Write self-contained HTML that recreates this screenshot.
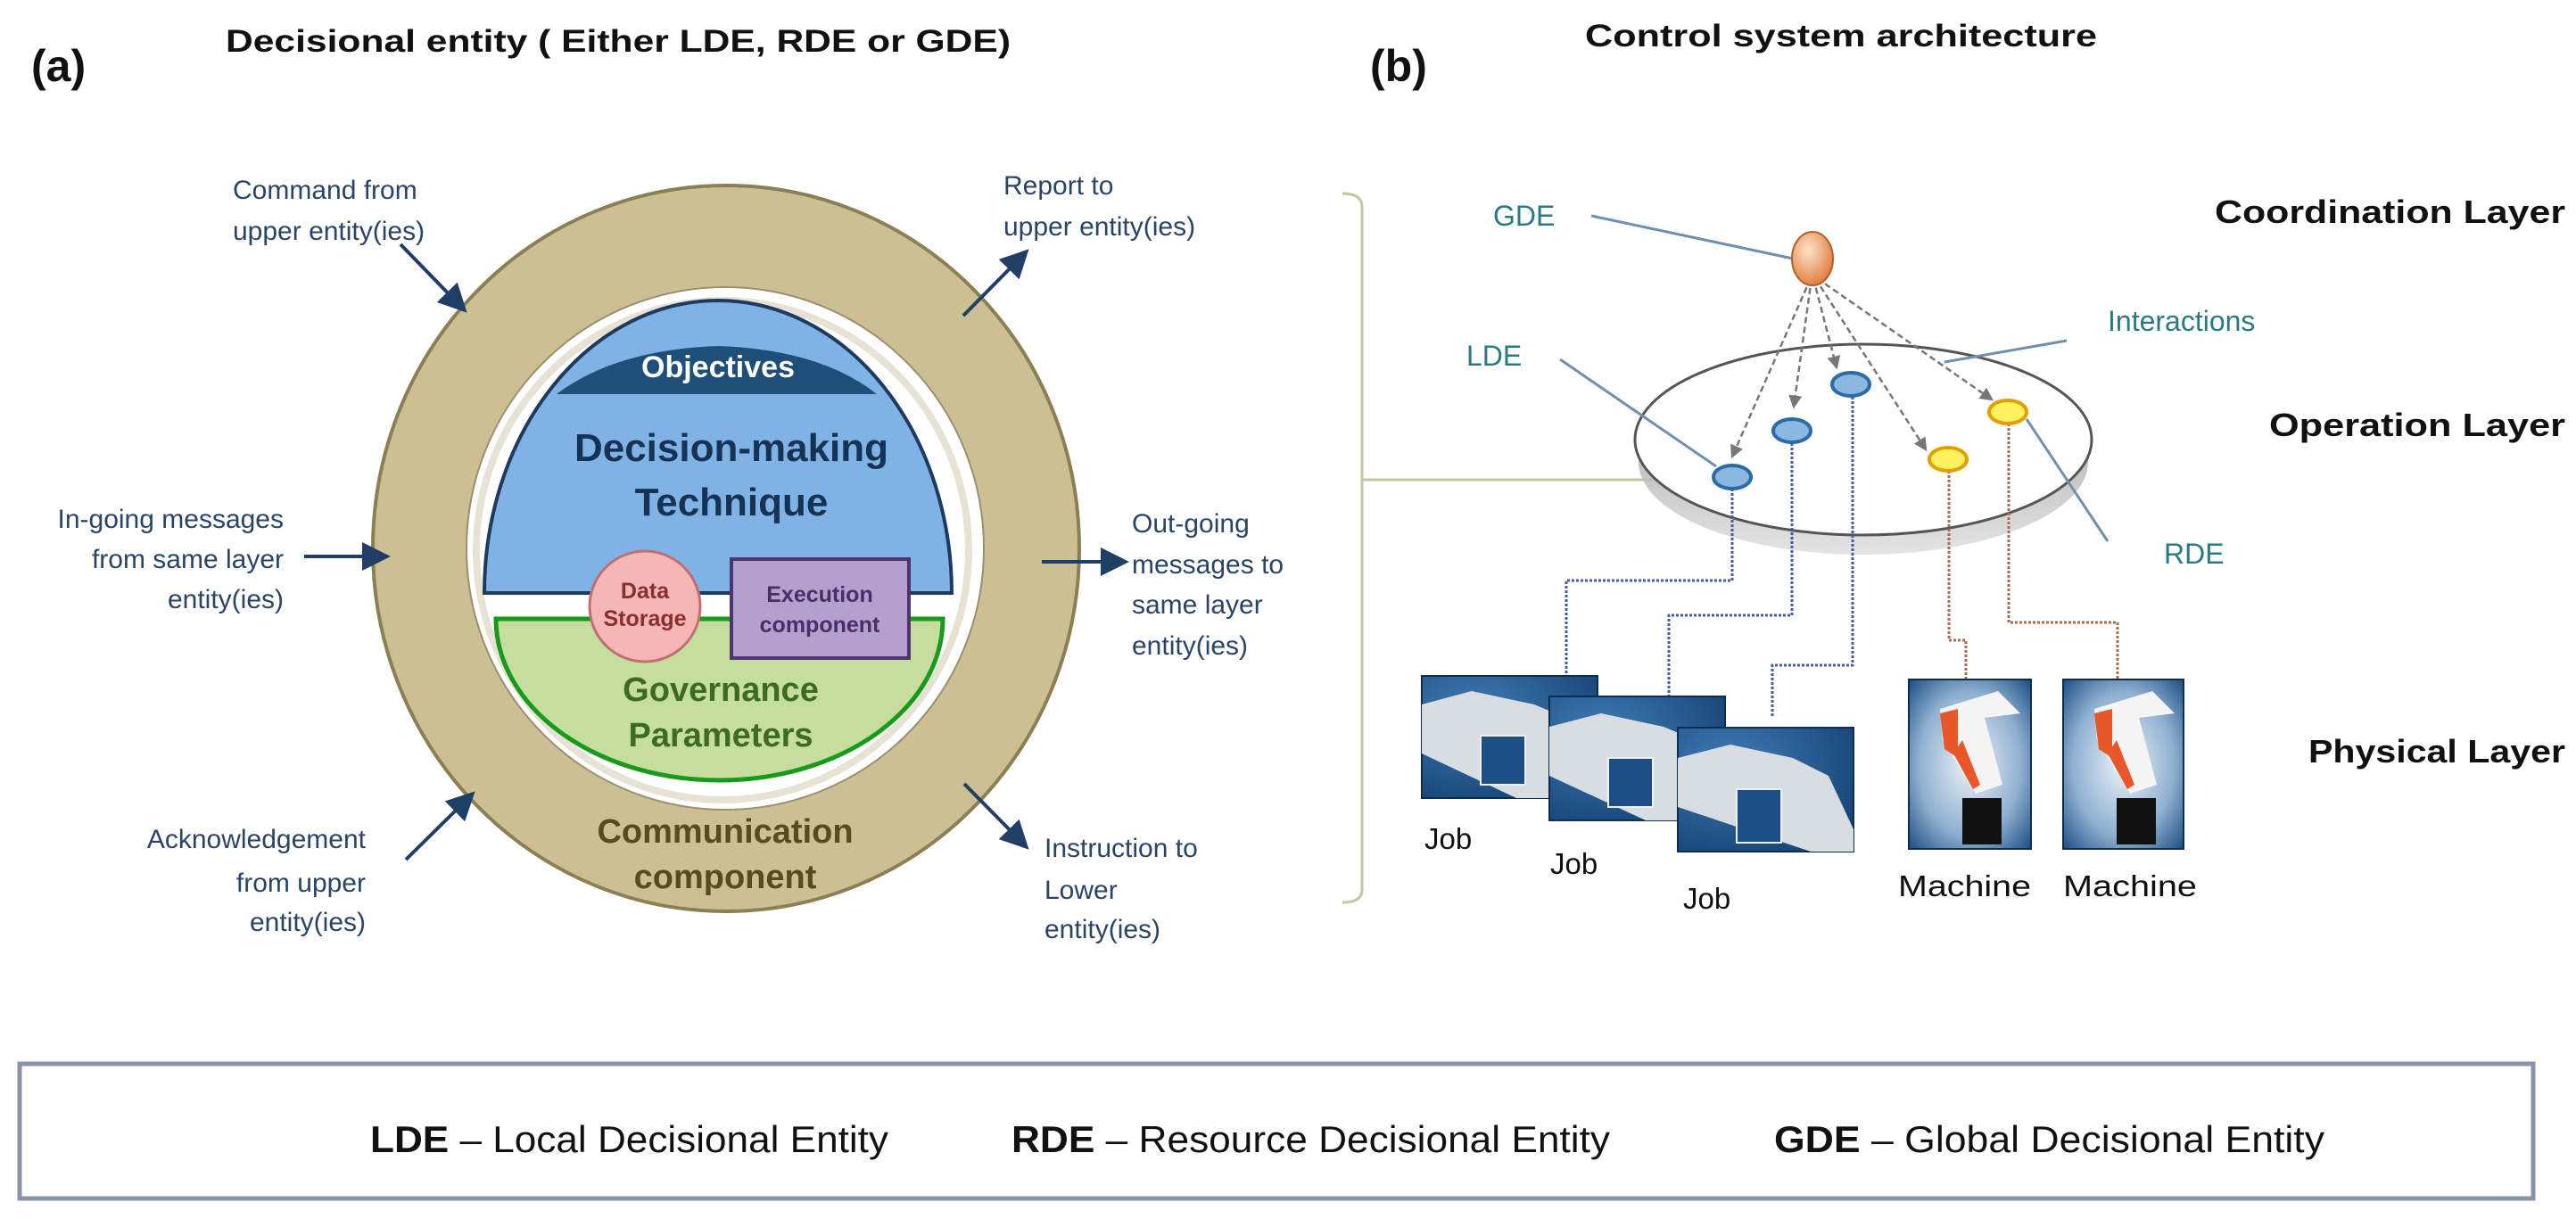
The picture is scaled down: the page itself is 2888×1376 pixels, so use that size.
<!DOCTYPE html>
<html><head><meta charset="utf-8"><style>
html,body{margin:0;padding:0;background:#fff;}
svg{display:block;}
text{font-family:"Liberation Sans",sans-serif;}
</style></head><body>
<svg width="2888" height="1376" viewBox="0 0 2888 1376" xmlns="http://www.w3.org/2000/svg">
<defs>
<marker id="ah" markerWidth="8" markerHeight="8" refX="6" refY="4" orient="auto" markerUnits="strokeWidth"><path d="M0,0 L8,4 L0,8 Z" fill="#1f3f66"/></marker>
<marker id="gh" markerWidth="6" markerHeight="6" refX="5" refY="3" orient="auto" markerUnits="strokeWidth"><path d="M0,0 L6,3 L0,6 Z" fill="#777"/></marker>
<radialGradient id="jobg" cx="0.3" cy="0.3" r="0.9"><stop offset="0" stop-color="#3f7bb5"/><stop offset="1" stop-color="#123e6e"/></radialGradient>
<radialGradient id="robg" cx="0.5" cy="0.5" r="0.7"><stop offset="0" stop-color="#eef3f8"/><stop offset="0.6" stop-color="#8fb0d0"/><stop offset="1" stop-color="#1d4f85"/></radialGradient>
<radialGradient id="gdeg" cx="0.4" cy="0.35" r="0.7"><stop offset="0" stop-color="#fde3c8"/><stop offset="1" stop-color="#e0793a"/></radialGradient>
<linearGradient id="shad" x1="0" y1="0" x2="0" y2="1"><stop offset="0" stop-color="#888"/><stop offset="1" stop-color="#ddd"/></linearGradient>
</defs>

<!-- Titles -->
<text x="35" y="91" font-size="50" font-weight="bold" fill="#111">(a)</text>
<text x="253" y="58" font-size="35" font-weight="bold" fill="#111" textLength="880" lengthAdjust="spacingAndGlyphs">Decisional entity ( Either LDE, RDE or GDE)</text>
<text x="1536" y="91" font-size="50" font-weight="bold" fill="#111">(b)</text>
<text x="1777" y="52" font-size="35" font-weight="bold" fill="#111" textLength="574" lengthAdjust="spacingAndGlyphs">Control system architecture</text>

<!-- Part (a) -->
<ellipse cx="814" cy="615" rx="396" ry="407" fill="#cbbf93" stroke="#8a7f55" stroke-width="4"/>
<ellipse cx="813" cy="615" rx="290" ry="293" fill="#fff" stroke="#9a9070" stroke-width="2"/>
<ellipse cx="810" cy="617" rx="276" ry="280" fill="none" stroke="#e6e2d4" stroke-width="8"/>
<!-- blue -->
<path d="M543,665 A262,328 0 0 1 1067,665 Z" fill="#7fb2e5" stroke="#1f3a5f" stroke-width="4"/>
<path d="M624,442 Q690,392 805,388 Q920,392 983,442 Z" fill="#1f4e79"/>
<text x="805" y="423" font-size="34" font-weight="bold" fill="#fff" text-anchor="middle">Objectives</text>
<text x="820" y="517" font-size="44" font-weight="bold" fill="#163355" text-anchor="middle">Decision-making</text>
<text x="820" y="578" font-size="44" font-weight="bold" fill="#163355" text-anchor="middle">Technique</text>
<!-- green -->
<path d="M556,694 L1057,694 A250.5,181 0 0 1 556,694 Z" fill="#c5dea0" stroke="#1a9a1a" stroke-width="5"/>
<text x="808" y="786" font-size="38" font-weight="bold" fill="#3d6b1f" text-anchor="middle">Governance</text>
<text x="808" y="837" font-size="38" font-weight="bold" fill="#3d6b1f" text-anchor="middle">Parameters</text>
<!-- data storage -->
<circle cx="723" cy="680" r="62" fill="#f4b6b6" stroke="#c07070" stroke-width="3"/>
<text x="723" y="671" font-size="25" font-weight="bold" fill="#8b2e2e" text-anchor="middle">Data</text>
<text x="723" y="702" font-size="25" font-weight="bold" fill="#8b2e2e" text-anchor="middle">Storage</text>
<rect x="820" y="627" width="199" height="111" fill="#b4a0cc" stroke="#4f3470" stroke-width="4"/>
<text x="919" y="675" font-size="25" font-weight="bold" fill="#4a2d6a" text-anchor="middle">Execution</text>
<text x="919" y="709" font-size="25" font-weight="bold" fill="#4a2d6a" text-anchor="middle">component</text>
<text x="813" y="945" font-size="38" font-weight="bold" fill="#5a4a20" text-anchor="middle">Communication</text>
<text x="813" y="996" font-size="38" font-weight="bold" fill="#5a4a20" text-anchor="middle">component</text>

<!-- arrows (a) -->
<g stroke="#1f3f66" stroke-width="4" marker-end="url(#ah)" fill="none">
<line x1="449" y1="274" x2="518" y2="345"/>
<line x1="1080" y1="354" x2="1148" y2="285"/>
<line x1="341" y1="624" x2="430" y2="624"/>
<line x1="1168" y1="630" x2="1258" y2="630"/>
<line x1="455" y1="964" x2="527" y2="893"/>
<line x1="1081" y1="879" x2="1148" y2="947"/>
</g>
<g font-size="30" fill="#2a4466">
<text x="261" y="223">Command from</text>
<text x="261" y="269">upper entity(ies)</text>
<text x="1125" y="218">Report to</text>
<text x="1125" y="264">upper entity(ies)</text>
<text x="318" y="592" text-anchor="end">In-going messages</text>
<text x="318" y="637" text-anchor="end">from same layer</text>
<text x="318" y="682" text-anchor="end">entity(ies)</text>
<text x="1269" y="597">Out-going</text>
<text x="1269" y="643">messages to</text>
<text x="1269" y="688">same layer</text>
<text x="1269" y="734">entity(ies)</text>
<text x="410" y="951" text-anchor="end">Acknowledgement</text>
<text x="410" y="1000" text-anchor="end">from upper</text>
<text x="410" y="1044" text-anchor="end">entity(ies)</text>
<text x="1171" y="961">Instruction to</text>
<text x="1171" y="1008">Lower</text>
<text x="1171" y="1052">entity(ies)</text>
</g>

<!-- Part (b) -->
<path d="M1505,217 Q1527,217 1527,232 L1527,998 Q1527,1012 1505,1012" fill="none" stroke="#c8c4a0" stroke-width="3"/>
<line x1="1527" y1="538" x2="1921" y2="538" stroke="#c8c4a0" stroke-width="3"/>

<ellipse cx="2089" cy="518" rx="252" ry="104" fill="url(#shad)" opacity="0.8"/>
<ellipse cx="2089" cy="493" rx="256" ry="107" fill="#fff" stroke="#555" stroke-width="3"/>

<g stroke="#7090b0" stroke-width="3" fill="none">
<line x1="1784" y1="242" x2="2010" y2="290"/>
<line x1="1749" y1="403" x2="1924" y2="523"/>
<line x1="2317" y1="382" x2="2180" y2="406"/>
<line x1="2272" y1="470" x2="2363" y2="607"/>
</g>

<g stroke="#777" stroke-width="2.5" stroke-dasharray="7,4" fill="none" marker-end="url(#gh)">
<line x1="2030" y1="312" x2="1942" y2="512"/>
<line x1="2031" y1="312" x2="2011" y2="456"/>
<line x1="2033" y1="312" x2="2059" y2="412"/>
<line x1="2035" y1="312" x2="2159" y2="504"/>
<line x1="2037" y1="312" x2="2233" y2="448"/>
</g>

<g stroke="#4a5aa0" stroke-width="3" stroke-dasharray="3,2" fill="none">
<polyline points="1942,548 1942,651 1756,651 1756,758"/>
<polyline points="2009,497 2009,690 1871,690 1871,781"/>
<polyline points="2077,445 2077,746 1987,746 1987,805"/>
</g>
<g stroke="#b06a50" stroke-width="3" stroke-dasharray="3,2" fill="none">
<polyline points="2185,528 2185,718 2204,718 2204,763"/>
<polyline points="2252,475 2252,698 2374,698 2374,763"/>
</g>

<ellipse cx="2032" cy="290" rx="23" ry="30" fill="url(#gdeg)" stroke="#b0602a" stroke-width="2"/>
<g fill="#8ab8e0" stroke="#2e6aa8" stroke-width="4">
<ellipse cx="1942" cy="535" rx="21" ry="13"/>
<ellipse cx="2009" cy="483" rx="21" ry="13"/>
<ellipse cx="2075" cy="431" rx="21" ry="13"/>
</g>
<g fill="#fff060" stroke="#e0a000" stroke-width="4">
<ellipse cx="2184" cy="515" rx="21" ry="13"/>
<ellipse cx="2251" cy="462" rx="21" ry="13"/>
</g>

<g font-size="32" fill="#2a7a80">
<text x="1674" y="253">GDE</text>
<text x="1644" y="410">LDE</text>
<text x="2363" y="371">Interactions</text>
<text x="2426" y="632">RDE</text>
</g>
<g font-size="36" font-weight="bold" fill="#111">
<text x="2876" y="250" text-anchor="end" textLength="393" lengthAdjust="spacingAndGlyphs">Coordination Layer</text>
<text x="2876" y="489" text-anchor="end" textLength="332" lengthAdjust="spacingAndGlyphs">Operation Layer</text>
<text x="2876" y="855" text-anchor="end" textLength="288" lengthAdjust="spacingAndGlyphs">Physical Layer</text>
</g>

<rect x="1594" y="758" width="197" height="137" fill="url(#jobg)" stroke="#0d2c50" stroke-width="2"/>
<path d="M1594,790 L1650,775 L1720,790 L1780,815 L1791,840 L1740,895 L1700,895 L1594,845 Z" fill="#d8dde2"/>
<rect x="1660" y="825" width="50" height="55" fill="#1d4f85" stroke="#eef" stroke-width="2"/>
<rect x="1737" y="781" width="197" height="139" fill="url(#jobg)" stroke="#0d2c50" stroke-width="2"/>
<path d="M1737,815 L1795,800 L1865,815 L1925,840 L1934,865 L1885,920 L1845,920 L1737,870 Z" fill="#d8dde2"/>
<rect x="1803" y="850" width="50" height="55" fill="#1d4f85" stroke="#eef" stroke-width="2"/>
<rect x="1881" y="816" width="197" height="139" fill="url(#jobg)" stroke="#0d2c50" stroke-width="2"/>
<path d="M1881,850 L1940,835 L2010,850 L2050,870 L2078,930 L2078,955 L2030,955 L1881,905 Z" fill="#d8dde2"/>
<rect x="1947" y="885" width="50" height="60" fill="#1d4f85" stroke="#eef" stroke-width="2"/>

<g>
<rect x="2140" y="762" width="137" height="190" fill="url(#robg)" stroke="#0d2c50" stroke-width="2"/>
<path d="M2175,795 L2240,775 L2265,800 L2225,805 L2245,880 L2215,890 L2178,830 Z" fill="#f4f4f4"/>
<path d="M2175,800 L2195,795 L2195,850 L2180,840 Z M2200,830 L2220,880 L2212,885 L2190,845 Z" fill="#e8562a"/>
<rect x="2200" y="895" width="44" height="52" fill="#111"/>
</g>
<g>
<rect x="2313" y="762" width="135" height="190" fill="url(#robg)" stroke="#0d2c50" stroke-width="2"/>
<path d="M2348,795 L2413,775 L2438,800 L2398,805 L2418,880 L2388,890 L2351,830 Z" fill="#f4f4f4"/>
<path d="M2348,800 L2368,795 L2368,850 L2353,840 Z M2373,830 L2393,880 L2385,885 L2363,845 Z" fill="#e8562a"/>
<rect x="2373" y="895" width="44" height="52" fill="#111"/>
</g>
<g font-size="33" fill="#111">
<text x="1597" y="952">Job</text>
<text x="1738" y="980">Job</text>
<text x="1887" y="1019">Job</text>
<text x="2128" y="1005" textLength="149" lengthAdjust="spacingAndGlyphs">Machine</text>
<text x="2313" y="1005" textLength="150" lengthAdjust="spacingAndGlyphs">Machine</text>
</g>

<rect x="22" y="1193" width="2818" height="151" fill="#fff" stroke="#8a96a8" stroke-width="5"/>
<g font-size="42" fill="#111">
<text x="415" y="1292" textLength="581" lengthAdjust="spacingAndGlyphs"><tspan font-weight="bold">LDE</tspan> – Local Decisional Entity</text>
<text x="1134" y="1292" textLength="671" lengthAdjust="spacingAndGlyphs"><tspan font-weight="bold">RDE</tspan> – Resource Decisional Entity</text>
<text x="1989" y="1292" textLength="617" lengthAdjust="spacingAndGlyphs"><tspan font-weight="bold">GDE</tspan> – Global Decisional Entity</text>
</g>
</svg>
</body></html>
